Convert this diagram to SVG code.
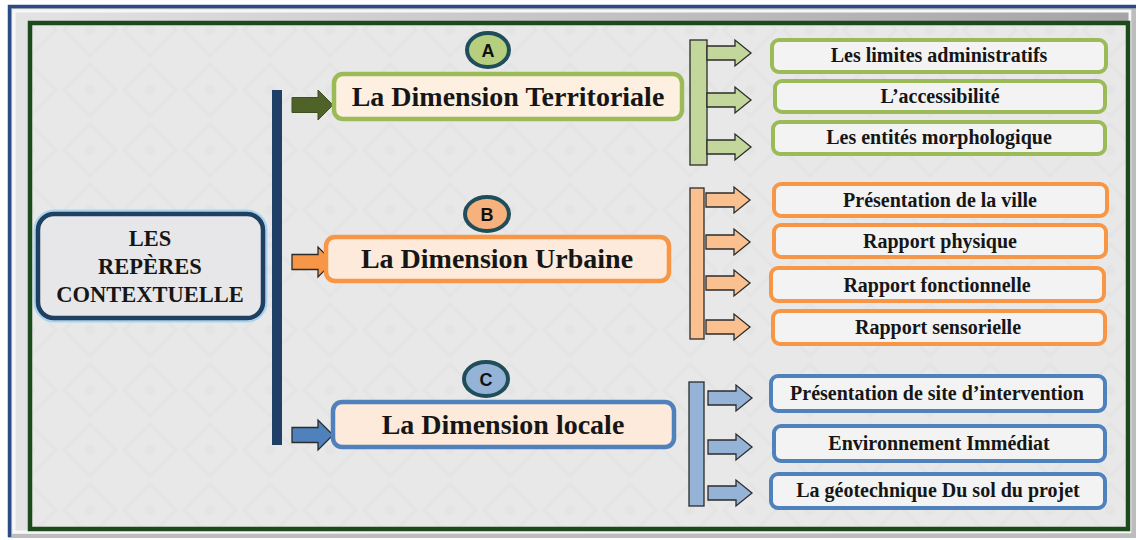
<svg xmlns="http://www.w3.org/2000/svg" width="1138" height="540" viewBox="0 0 1138 540">
<style>
.t{font-family:'Liberation Serif','Tinos','Times New Roman','DejaVu Serif',serif;font-weight:700;fill:#161616;text-anchor:middle}
.big{font-size:28px}
.sub{font-size:20px}
.main{font-size:22.5px}
.let{font-family:'Liberation Sans',Arial,sans-serif;font-weight:bold;font-size:18px;fill:#111;text-anchor:middle}
.boxA{fill:#f3f3f3;stroke:#9bbb59;stroke-width:4}
.boxB{fill:#f3f3f3;stroke:#f79646;stroke-width:4}
.boxC{fill:#f3f3f3;stroke:#4f81bd;stroke-width:4}
.circ{stroke:#1f4e5a;stroke-width:4}
.ar{stroke:#2b2b2b;stroke-width:1.3;stroke-linejoin:miter}
</style>
<defs>
<pattern id="bgp" width="60" height="60" patternUnits="userSpaceOnUse">
<rect width="60" height="60" fill="#e8e8e8"/>
<path d="M30 4 L56 30 L30 56 L4 30 Z" fill="none" stroke="#e4e4e4" stroke-width="3"/>
<circle cx="30" cy="30" r="5" fill="#e4e4e4"/>
</pattern>
<linearGradient id="bevH" x1="0" y1="0" x2="1" y2="0">
<stop offset="0" stop-color="#f4f4f4"/><stop offset="1" stop-color="#9a9a9a"/>
</linearGradient>
<path id="arS" d="M0 -7 H28 V-13 L44 0 L28 13 V7 H0 Z"/>
<path id="arB" d="M0 -7.5 H26 V-15 L41 0 L26 15 V7.5 H0 Z"/>
</defs>

<!-- frame -->
<rect x="8" y="5" width="1128" height="533" fill="#bdbdbd"/>
<rect x="12" y="9" width="1120" height="525" fill="url(#bevH)" opacity="0.7"/>
<rect x="14" y="11" width="1116" height="521" fill="none" stroke="#f7f7f7" stroke-width="3"/>
<path d="M9.5 537 V6.5 H1136" fill="none" stroke="#2c4a86" stroke-width="3.5"/>
<rect x="30" y="23" width="1098" height="506" fill="url(#bgp)" stroke="#1d4a1d" stroke-width="4.5"/>

<!-- connectors -->
<g id="connectors">
<rect x="272" y="90" width="10" height="355" fill="#1f3f66"/>
<use href="#arB" x="292" y="105" fill="#4f6228" stroke="#3e4f20" stroke-width="1"/>
<use href="#arB" x="292" y="262" fill="#f79646" class="ar"/>
<use href="#arB" x="292" y="435" fill="#4f81bd" class="ar"/>

<rect x="690" y="40" width="17" height="125" fill="#c3d69b" class="ar"/>
<use href="#arS" x="707" y="53" fill="#c3d69b" class="ar"/>
<use href="#arS" x="707" y="100" fill="#c3d69b" class="ar"/>
<use href="#arS" x="707" y="147" fill="#c3d69b" class="ar"/>

<rect x="690" y="188" width="14" height="151" fill="#fac090" class="ar"/>
<use href="#arS" x="706" y="200" fill="#fac090" class="ar"/>
<use href="#arS" x="706" y="242" fill="#fac090" class="ar"/>
<use href="#arS" x="706" y="283" fill="#fac090" class="ar"/>
<use href="#arS" x="706" y="327" fill="#fac090" class="ar"/>

<rect x="689" y="382" width="15" height="124" fill="#95b3d7" class="ar"/>
<use href="#arS" x="708" y="398" fill="#95b3d7" class="ar"/>
<use href="#arS" x="708" y="447" fill="#95b3d7" class="ar"/>
<use href="#arS" x="708" y="493" fill="#95b3d7" class="ar"/>
</g>

<!-- main node -->
<g id="main">
<rect x="38" y="214" width="225" height="104" rx="16" fill="none" stroke="#a9d3ec" stroke-width="9"/>
<rect x="38" y="214" width="225" height="104" rx="16" fill="#e7e7e9" stroke="#1f3f63" stroke-width="4.5"/>
<text class="t main" x="150" y="246">LES</text>
<text class="t main" x="150" y="274">REPÈRES</text>
<text class="t main" x="150" y="302">CONTEXTUELLE</text>
</g>

<!-- dimension A -->
<g id="dimA">
<rect x="334" y="74" width="348" height="45" rx="9" fill="#fdf0e0" stroke="#9bbb59" stroke-width="4.5"/>
<text class="t big" x="508" y="106">La Dimension Territoriale</text>
</g>
<g id="circA">
<ellipse cx="488" cy="50" rx="21" ry="17" fill="#b5cf7f" class="circ"/>
<text class="let" x="488" y="57">A</text>
</g>

<!-- dimension B -->
<g id="dimB">
<rect x="326" y="237" width="343" height="44" rx="9" fill="#fdeada" stroke="#f79646" stroke-width="4.5"/>
<text class="t big" x="497" y="268">La Dimension Urbaine</text>
</g>
<g id="circB">
<ellipse cx="487" cy="214" rx="22" ry="17" fill="#f6b17d" class="circ"/>
<text class="let" x="487" y="221">B</text>
</g>

<!-- dimension C -->
<g id="dimC">
<rect x="333" y="402" width="341" height="45" rx="9" fill="#fdeada" stroke="#4f81bd" stroke-width="4.5"/>
<text class="t big" x="503" y="434">La Dimension locale</text>
</g>
<g id="circC">
<ellipse cx="486" cy="379" rx="22" ry="17" fill="#95b3d7" class="circ"/>
<text class="let" x="486" y="386">C</text>
</g>

<!-- sub items A -->
<g id="a1"><rect x="772" y="40" width="334" height="32" rx="7" class="boxA"/><text class="t sub" x="939" y="62">Les limites administratifs</text></g>
<g id="a2"><rect x="775" y="81" width="330" height="31" rx="7" class="boxA"/><text class="t sub" x="940" y="103">L’accessibilité</text></g>
<g id="a3"><rect x="773" y="122" width="332" height="32" rx="7" class="boxA"/><text class="t sub" x="939" y="144">Les entités morphologique</text></g>

<!-- sub items B -->
<g id="b1"><rect x="774" y="184" width="333" height="32" rx="7" class="boxB"/><text class="t sub" x="940" y="207">Présentation de la ville</text></g>
<g id="b2"><rect x="774" y="225" width="332" height="32" rx="7" class="boxB"/><text class="t sub" x="940" y="248">Rapport physique</text></g>
<g id="b3"><rect x="771" y="268" width="333" height="33" rx="7" class="boxB"/><text class="t sub" x="937" y="292">Rapport fonctionnelle</text></g>
<g id="b4"><rect x="773" y="311" width="332" height="33" rx="7" class="boxB"/><text class="t sub" x="938" y="334">Rapport sensorielle</text></g>

<!-- sub items C -->
<g id="c1"><rect x="771" y="376" width="334" height="35" rx="7" class="boxC"/><text class="t sub" x="937" y="400">Présentation de site d’intervention</text></g>
<g id="c2"><rect x="774" y="426" width="331" height="35" rx="7" class="boxC"/><text class="t sub" x="939" y="450">Environnement Immédiat</text></g>
<g id="c3"><rect x="771" y="474" width="334" height="34" rx="7" class="boxC"/><text class="t sub" x="938" y="497">La géotechnique Du sol du projet</text></g>
</svg>
